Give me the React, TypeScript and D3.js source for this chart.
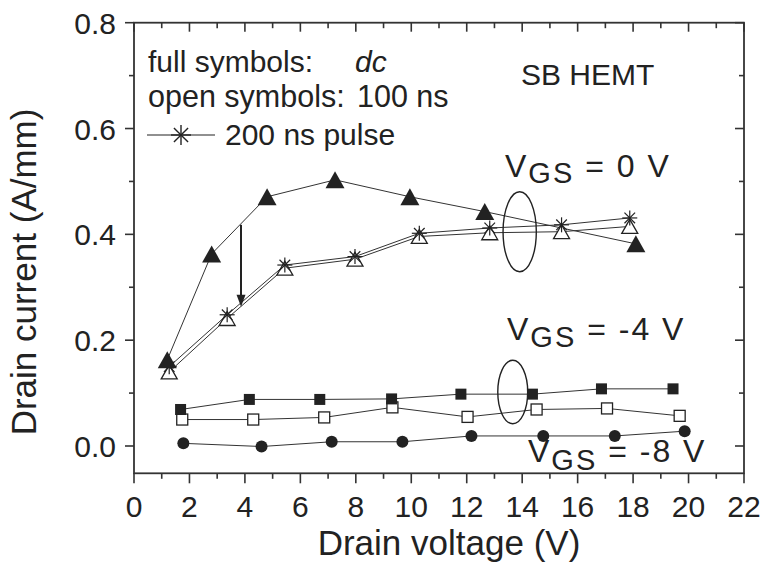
import React from "react";
import * as d3 from "d3";

// ---- Data ----
// VGS = 0 V, dc (full triangles)
const triDcV = [1.2, 2.8, 4.8, 7.25, 9.95, 12.65, 18.1];
const triDcI = [0.163, 0.363, 0.471, 0.503, 0.471, 0.443, 0.382];
// VGS = 0 V, 100 ns (open triangles)
const triOpenV = [1.27, 3.36, 5.44, 7.97, 10.29, 12.83, 15.42, 17.88];
const triOpenI = [0.14, 0.241, 0.336, 0.353, 0.396, 0.403, 0.405, 0.415];
// VGS = 0 V, 200 ns pulse (asterisks)
const starV = [1.27, 3.36, 5.44, 7.97, 10.29, 12.83, 15.42, 17.88];
const starI = [0.15, 0.248, 0.342, 0.358, 0.402, 0.412, 0.418, 0.431];
// VGS = -4 V, dc (full squares)
const sqDcV = [1.68, 4.16, 6.7, 9.29, 11.79, 14.37, 16.86, 19.44];
const sqDcI = [0.069, 0.088, 0.088, 0.089, 0.098, 0.098, 0.108, 0.108];
// VGS = -4 V, 100 ns (open squares)
const sqOpenV = [1.74, 4.3, 6.86, 9.32, 12.03, 14.52, 17.06, 19.68];
const sqOpenI = [0.05, 0.05, 0.054, 0.073, 0.055, 0.069, 0.071, 0.057];
// VGS = -8 V, dc (full circles)
const cirV = [1.78, 4.6, 7.13, 9.68, 12.17, 14.76, 17.34, 19.86];
const cirI = [0.005, -0.001, 0.008, 0.008, 0.019, 0.019, 0.019, 0.028];

const xTicks = [0, 2, 4, 6, 8, 10, 12, 14, 16, 18, 20, 22];
const xMinor = [1, 3, 5, 7, 9, 11, 13, 15, 17, 19, 21];
const yTicks = [0.0, 0.2, 0.4, 0.6, 0.8];
const yMinor = [0.1, 0.3, 0.5, 0.7];

// annotations (data coordinates)
const ellipse0 = { v: 13.91, i: 0.405, rv: 0.6, ri: 0.0756 };
const ellipse4 = { v: 13.66, i: 0.102, rv: 0.54, ri: 0.06 };
const arrowV = 3.86;
const arrowFrom = 0.418;
const arrowTo = 0.263;

const W = 767;
const H = 568;
const L = 134, R = 744, T = 22.7, B = 473.3;
const FONT = "'Liberation Sans', Arial, Helvetica, sans-serif";
const INK = "#222";

export default function App() {
  const x = d3.scaleLinear().domain([0, 22]).range([L, R]);
  const y = d3.scaleLinear().domain([-0.0516, 0.8]).range([B, T]);

  const line = (vs: number[], is: number[]) =>
    d3.line<number>().x((_, k) => x(vs[k])).y((_, k) => y(is[k]))(vs) || "";

  const triPath = (cx: number, cy: number, w: number, h: number) =>
    `M${cx - w / 2},${cy + h / 2}L${cx + w / 2},${cy + h / 2}L${cx},${cy - h / 2}Z`;

  const star = (cx: number, cy: number, r: number, key: string, sw = 1.3) => {
    const a = r * Math.cos(Math.PI / 4);
    return (
      <g key={key} stroke={INK} strokeWidth={sw}>
        <line x1={cx} y1={cy - r} x2={cx} y2={cy + r} />
        <line x1={cx - r} y1={cy} x2={cx + r} y2={cy} />
        <line x1={cx - a} y1={cy - a} x2={cx + a} y2={cy + a} />
        <line x1={cx - a} y1={cy + a} x2={cx + a} y2={cy - a} />
      </g>
    );
  };

  const lineStyle = { fill: "none", stroke: "#333", strokeWidth: 1 };
  const vgsLabel = (xp: number, yp: number, rest: string, dy: number) => (
    <text x={xp} y={yp} fontFamily={FONT} fontSize={32} letterSpacing={2} fill={INK}>
      V<tspan fontSize={29} dy={dy}>GS</tspan><tspan dy={-dy}>{" = " + rest}</tspan>
    </text>
  );

  return (
    <svg width={W} height={H} style={{ position: "absolute", left: 0, top: 0, background: "#fff" }}>
      <rect x={0} y={0} width={W} height={H} fill="#fff" />
      {/* frame */}
      <rect x={L} y={T} width={R - L} height={B - T} fill="none" stroke="#333" strokeWidth={1.8} />
      {/* x ticks bottom (outward) and top (inward) */}
      {xTicks.map((t) => (
        <g key={"xt" + t}>
          <line x1={x(t)} x2={x(t)} y1={B} y2={B + 10} stroke="#333" strokeWidth={1.6} />
          <line x1={x(t)} x2={x(t)} y1={T} y2={T + 9} stroke="#333" strokeWidth={1.6} />
          <text x={x(t)} y={517} textAnchor="middle" fontFamily={FONT} fontSize={30} fill={INK}>{t}</text>
        </g>
      ))}
      {xMinor.map((t) => (
        <g key={"xm" + t}>
          <line x1={x(t)} x2={x(t)} y1={B} y2={B + 5.5} stroke="#333" strokeWidth={1.6} />
          <line x1={x(t)} x2={x(t)} y1={T} y2={T + 5.5} stroke="#333" strokeWidth={1.6} />
        </g>
      ))}
      {yTicks.map((t) => (
        <g key={"yt" + t}>
          <line x1={L - 9} x2={L} y1={y(t)} y2={y(t)} stroke="#333" strokeWidth={1.6} />
          <line x1={R - 9} x2={R} y1={y(t)} y2={y(t)} stroke="#333" strokeWidth={1.6} />
          <text x={116} y={y(t) + 11} textAnchor="end" fontFamily={FONT} fontSize={30} fill={INK}>{t.toFixed(1)}</text>
        </g>
      ))}
      {yMinor.map((t) => (
        <g key={"ym" + t}>
          <line x1={L - 5} x2={L} y1={y(t)} y2={y(t)} stroke="#333" strokeWidth={1.6} />
          <line x1={R - 5} x2={R} y1={y(t)} y2={y(t)} stroke="#333" strokeWidth={1.6} />
        </g>
      ))}
      {/* axis titles */}
      <text x={449} y={555} textAnchor="middle" fontFamily={FONT} fontSize={35} fill={INK}>Drain voltage (V)</text>
      <text transform={`translate(36,272) rotate(-90)`} textAnchor="middle" fontFamily={FONT} fontSize={35} fill={INK}>Drain current (A/mm)</text>

      {/* series lines */}
      <path d={line(triDcV, triDcI)} style={lineStyle} />
      <path d={line(triOpenV, triOpenI)} style={lineStyle} />
      <path d={line(starV, starI)} style={lineStyle} />
      <path d={line(sqDcV, sqDcI)} style={lineStyle} />
      <path d={line(sqOpenV, sqOpenI)} style={lineStyle} />
      <path d={line(cirV, cirI)} style={lineStyle} />

      {/* markers */}
      {cirV.map((v, k) => (
        <circle key={"c" + k} cx={x(v)} cy={y(cirI[k])} r={6} fill={INK} />
      ))}
      {sqOpenV.map((v, k) => (
        <rect key={"so" + k} x={x(v) - 5.5} y={y(sqOpenI[k]) - 5.5} width={11} height={11} fill="#fff" stroke={INK} strokeWidth={1.3} />
      ))}
      {sqDcV.map((v, k) => (
        <rect key={"sd" + k} x={x(v) - 5.5} y={y(sqDcI[k]) - 5.5} width={11} height={11} fill={INK} />
      ))}
      {triOpenV.map((v, k) => (
        <path key={"to" + k} d={triPath(x(v), y(triOpenI[k]), 16, 14)} fill="#fff" stroke={INK} strokeWidth={1.3} />
      ))}
      {starV.map((v, k) => star(x(v), y(starI[k]), 7.5, "st" + k, 1.2))}
      {triDcV.map((v, k) => (
        <path key={"td" + k} d={triPath(x(v), y(triDcI[k]), 19, 17)} fill={INK} />
      ))}

      {/* annotations */}
      <ellipse cx={x(ellipse0.v)} cy={y(ellipse0.i)} rx={x(ellipse0.v + ellipse0.rv) - x(ellipse0.v)} ry={y(ellipse0.i - ellipse0.ri) - y(ellipse0.i)} fill="none" stroke={INK} strokeWidth={1.4} />
      <ellipse cx={x(ellipse4.v)} cy={y(ellipse4.i)} rx={x(ellipse4.v + ellipse4.rv) - x(ellipse4.v)} ry={y(ellipse4.i - ellipse4.ri) - y(ellipse4.i)} fill="none" stroke={INK} strokeWidth={1.4} />
      <line x1={x(arrowV)} x2={x(arrowV)} y1={y(arrowFrom)} y2={y(arrowTo) - 8} stroke={INK} strokeWidth={2} />
      <path d={`M${x(arrowV) - 4.5},${y(arrowTo) - 12}L${x(arrowV) + 4.5},${y(arrowTo) - 12}L${x(arrowV)},${y(arrowTo)}Z`} fill={INK} />

      {/* legend */}
      <text x={148} y={72} fontFamily={FONT} fontSize={30} fill={INK}>full symbols:</text>
      <text x={355} y={72} fontFamily={FONT} fontSize={30} fontStyle="italic" fill={INK}>dc</text>
      <text x={148} y={107} fontFamily={FONT} fontSize={30.5} fill={INK}>open symbols:</text>
      <text x={357} y={107} fontFamily={FONT} fontSize={30.5} fill={INK}>100 ns</text>
      <line x1={147} x2={215} y1={135} y2={135} stroke={INK} strokeWidth={1.2} />
      {star(181, 135, 10, "legstar", 1.4)}
      <text x={225} y={145} fontFamily={FONT} fontSize={30} fill={INK}>200 ns pulse</text>

      <text x={521} y={85} fontFamily={FONT} fontSize={30} fill={INK}>SB HEMT</text>

      {vgsLabel(505, 177, "0 V", 6)}
      {vgsLabel(507, 340, "-4 V", 7)}
      {vgsLabel(528, 462, "-8 V", 8)}
    </svg>
  );
}
